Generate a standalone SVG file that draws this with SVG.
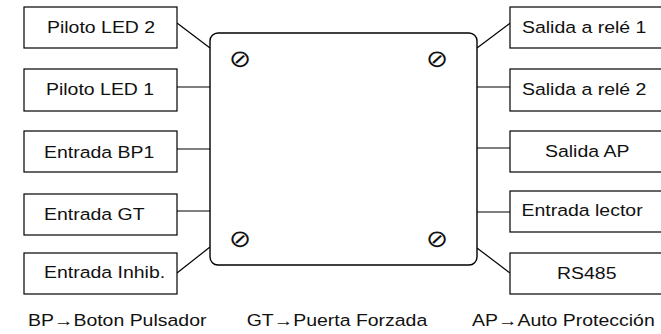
<svg xmlns="http://www.w3.org/2000/svg" width="661" height="334" viewBox="0 0 661 334">
<style>
.box{fill:#fff;stroke:#000;stroke-width:1.2}
.main{fill:#fff;stroke:#000;stroke-width:1.4}
.lbl{font-family:"Liberation Sans",Arial,sans-serif;font-size:16.5px;fill:#111}
.scr{font-family:"DejaVu Sans",sans-serif;font-size:24px;fill:#111;text-anchor:middle}
#connectors line{stroke:#000;stroke-width:1.2}
</style>
<rect width="661" height="334" fill="#fff"/>
<g id="connectors">
<line x1="177" y1="23" x2="210" y2="48"/>
<line x1="177" y1="87" x2="210" y2="87"/>
<line x1="177" y1="149" x2="210" y2="149"/>
<line x1="177" y1="211" x2="210" y2="211"/>
<line x1="177" y1="273" x2="210" y2="247"/>
<line x1="477" y1="48" x2="513" y2="21"/>
<line x1="477" y1="87" x2="510" y2="87"/>
<line x1="477" y1="148" x2="510" y2="148"/>
<line x1="477" y1="212" x2="510" y2="212"/>
<line x1="477" y1="248" x2="510" y2="273"/>
</g>
<g id="controller">
<rect class="main" x="210" y="33" width="267" height="232" rx="8"/>
<text class="scr" transform="translate(240 66.7) scale(1.1 1)">⊘</text>
<text class="scr" transform="translate(437 66.7) scale(1.1 1)">⊘</text>
<text class="scr" transform="translate(240 247) scale(1.1 1)">⊘</text>
<text class="scr" transform="translate(437 247) scale(1.1 1)">⊘</text>
</g>
<g id="piloto-led-2"><rect class="box" x="24" y="7" width="153" height="41"/><text class="lbl" transform="translate(47 33) scale(1.18 1)">Piloto LED 2</text></g>
<g id="piloto-led-1"><rect class="box" x="24" y="69" width="153" height="42"/><text class="lbl" transform="translate(46 95) scale(1.18 1)">Piloto LED 1</text></g>
<g id="entrada-bp1"><rect class="box" x="24" y="131" width="153" height="41"/><text class="lbl" transform="translate(44 157.5) scale(1.18 1)">Entrada BP1</text></g>
<g id="entrada-gt"><rect class="box" x="24" y="194" width="153" height="41"/><text class="lbl" transform="translate(44 219.5) scale(1.18 1)">Entrada GT</text></g>
<g id="entrada-inhib"><rect class="box" x="24" y="253" width="153" height="41"/><text class="lbl" transform="translate(44 278) scale(1.18 1)">Entrada Inhib.</text></g>
<g id="salida-rele-1"><rect class="box" x="510" y="7" width="153" height="41"/><text class="lbl" transform="translate(522 33) scale(1.18 1)">Salida a relé 1</text></g>
<g id="salida-rele-2"><rect class="box" x="510" y="69" width="153" height="42"/><text class="lbl" transform="translate(522 95) scale(1.18 1)">Salida a relé 2</text></g>
<g id="salida-ap"><rect class="box" x="510" y="131" width="153" height="41"/><text class="lbl" transform="translate(545 157) scale(1.18 1)">Salida AP</text></g>
<g id="entrada-lector"><rect class="box" x="510" y="191" width="153" height="41"/><text class="lbl" transform="translate(521.5 216) scale(1.18 1)">Entrada lector</text></g>
<g id="rs485"><rect class="box" x="510" y="253" width="153" height="41"/><text class="lbl" transform="translate(557 279) scale(1.18 1)">RS485</text></g>
<g id="legend">
<text class="lbl" transform="translate(28 326) scale(1.18 1)">BP→Boton Pulsador</text>
<text class="lbl" transform="translate(246.7 326) scale(1.18 1)">GT→Puerta Forzada</text>
<text class="lbl" transform="translate(472 326) scale(1.18 1)">AP→Auto Protección</text>
</g>
</svg>
